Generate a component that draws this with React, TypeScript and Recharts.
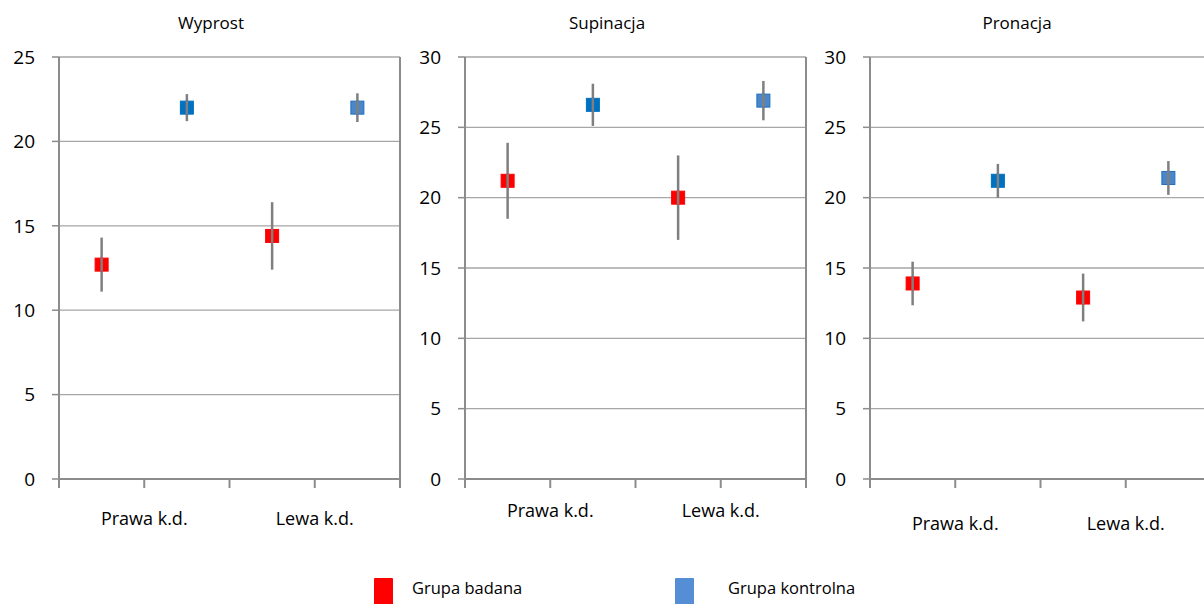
import React from 'react';
import { ScatterChart, Scatter, XAxis, YAxis, CartesianGrid, ErrorBar, ReferenceLine } from 'recharts';

// categories and groups
const categories = ['Prawa k.d.', 'Lewa k.d.'];
const groups = ['Grupa badana', 'Grupa kontrolna'];
const titles = ['Wyprost', 'Supinacja', 'Pronacja'];

// means and standard deviations
const wyprostBadana = [12.7, 14.4];
const wyprostBadanaSd = [1.6, 2.0];
const wyprostKontrolna = [22.0, 22.0];
const wyprostKontrolnaSd = [0.8, 0.85];

const supinacjaBadana = [21.2, 20.0];
const supinacjaBadanaSd = [2.7, 3.0];
const supinacjaKontrolna = [26.6, 26.9];
const supinacjaKontrolnaSd = [1.5, 1.4];

const pronacjaBadana = [13.9, 12.9];
const pronacjaBadanaSd = [1.55, 1.7];
const pronacjaKontrolna = [21.2, 21.4];
const pronacjaKontrolnaSd = [1.2, 1.2];

const yTicksWyprost = [0, 5, 10, 15, 20, 25];
const yTicksRotacja = [0, 5, 10, 15, 20, 25, 30];
const xTicks = [0, 1, 2, 3, 4];

const FONT = '"Open Sans", sans-serif';
const AXIS = '#8c8c8c';
const GRID = '#a6a6a6';
const ERR = '#7f7f7f';

// marker colours per group, per category
const markerFill = [['#ff0000', '#ff0000'], ['#0070c0', '#4a86c8']];
const markerStroke = [['#ff0000', '#ff0000'], ['#0070c0', '#1f6fc0']];
const legendColors = ['#ff0000', '#558ed5'];

const buildPoints = (badana: number[], badanaSd: number[], kontrolna: number[], kontrolnaSd: number[]) => {
  const pts: any[] = [];
  const series = [[badana, badanaSd], [kontrolna, kontrolnaSd]];
  categories.forEach((_, ci) => {
    series.forEach(([m, sd], gi) => {
      pts.push({ x: ci * 2 + gi + 0.5, y: m[ci], err: sd[ci], group: gi, cat: ci });
    });
  });
  return pts;
};

const panelData = [
  buildPoints(wyprostBadana, wyprostBadanaSd, wyprostKontrolna, wyprostKontrolnaSd),
  buildPoints(supinacjaBadana, supinacjaBadanaSd, supinacjaKontrolna, supinacjaKontrolnaSd),
  buildPoints(pronacjaBadana, pronacjaBadanaSd, pronacjaKontrolna, pronacjaKontrolnaSd),
];
const panelTicks = [yTicksWyprost, yTicksRotacja, yTicksRotacja];

const layout = [
  { left: 0, axisWidth: 59, labelMargin: 24, titleX: 211 },
  { left: 400, axisWidth: 65, labelMargin: 16, titleX: 607 },
  { left: 800, axisWidth: 70, labelMargin: 29, titleX: 1017 },
];

// square marker; the error bar runs over it in the original, so the
// part of the bar crossing the square is drawn on top here
const renderSquare = (props: any) => {
  const { cx, cy, payload } = props;
  if (cx == null || cy == null) return <g />;
  return (
    <g>
      <rect
        x={cx - 6.5}
        y={cy - 6.5}
        width={13}
        height={13}
        fill={markerFill[payload.group][payload.cat]}
        stroke={markerStroke[payload.group][payload.cat]}
        strokeWidth={1}
      />
      <line x1={cx} x2={cx} y1={cy - 7} y2={cy + 7} stroke={ERR} strokeWidth={2.5} />
    </g>
  );
};

const renderNothing = () => <g />;

const Panel = ({ idx }: { idx: number }) => {
  const l = layout[idx];
  const ticks = panelTicks[idx];
  return (
    <>
      <div
        style={{
          position: 'absolute', left: l.titleX - 80, width: 160, top: 14, textAlign: 'center',
          fontFamily: FONT, fontSize: 17, lineHeight: '17px', color: '#000',
        }}
      >
        {titles[idx]}
      </div>
      <div style={{ position: 'absolute', left: l.left, top: 0 }}>
        <ScatterChart width={l.axisWidth + 351} height={540} margin={{ top: 57, right: 10, left: 0, bottom: 0 }}>
          <CartesianGrid vertical={false} stroke={GRID} strokeWidth={1.3} />
          <XAxis
            type="number"
            dataKey="x"
            domain={[0, 4]}
            ticks={xTicks}
            interval={0}
            height={61}
            tickSize={9}
            tickMargin={l.labelMargin}
            tickFormatter={(v: number) => (v % 2 === 1 ? categories[(v - 1) / 2] : '')}
            axisLine={{ stroke: AXIS, strokeWidth: 2 }}
            tickLine={{ stroke: AXIS, strokeWidth: 2 }}
            tick={{ fill: '#000', fontSize: 18, fontFamily: FONT }}
          />
          <YAxis
            type="number"
            dataKey="y"
            domain={[0, ticks[ticks.length - 1]]}
            ticks={ticks}
            interval={0}
            width={l.axisWidth}
            tickSize={7}
            tickMargin={17}
            axisLine={{ stroke: AXIS, strokeWidth: 2 }}
            tickLine={{ stroke: AXIS, strokeWidth: 1.5 }}
            tick={{ fill: '#000', fontSize: 19, fontFamily: FONT }}
          />
          <ReferenceLine x={4} stroke={AXIS} strokeWidth={2} />
          <Scatter data={panelData[idx]} shape={renderNothing} isAnimationActive={false}>
            <ErrorBar dataKey="err" direction="y" width={0} stroke={ERR} strokeWidth={2.5} />
          </Scatter>
          <Scatter data={panelData[idx]} shape={renderSquare} isAnimationActive={false} />
        </ScatterChart>
      </div>
    </>
  );
};

const legendPos = [
  { box: 374, text: 412 },
  { box: 675, text: 728 },
];

const App = () => {
  return (
    <div
      style={{
        position: 'absolute', left: 0, top: 0, width: 1204, height: 604,
        overflow: 'hidden', background: '#fff', fontFamily: FONT,
      }}
    >
      {titles.map((_, i) => <Panel key={i} idx={i} />)}
      {groups.map((g, i) => (
        <React.Fragment key={g}>
          <div
            style={{
              position: 'absolute', left: legendPos[i].box, top: 578, width: 19, height: 30,
              background: legendColors[i], borderRadius: 1,
            }}
          />
          <div
            style={{
              position: 'absolute', left: legendPos[i].text, top: 580, fontSize: 16.5,
              lineHeight: '16.5px', color: '#000', whiteSpace: 'nowrap',
            }}
          >
            {g}
          </div>
        </React.Fragment>
      ))}
    </div>
  );
};

export default App;
